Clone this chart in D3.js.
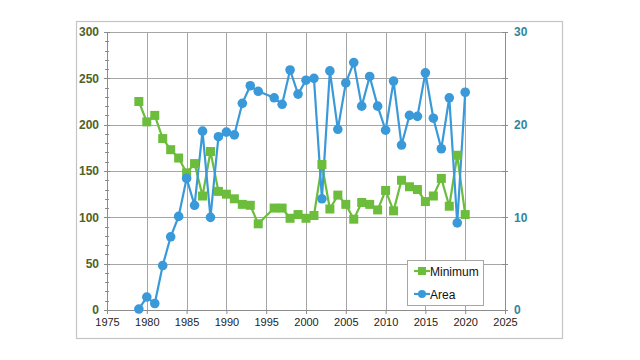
<!DOCTYPE html>
<html><head><meta charset="utf-8">
<script src="https://cdn.jsdelivr.net/npm/d3@7"></script>
<style>body{margin:0;background:#fff}svg{display:block}</style>
</head><body><svg id="c" width="640" height="360"></svg>
<script>
const years = [1979,1980,1981,1982,1983,1984,1985,1986,1987,1988,1989,1990,1991,1992,1993,1994,1996,1997,1998,1999,2000,2001,2002,2003,2004,2005,2006,2007,2008,2009,2010,2011,2012,2013,2014,2015,2016,2017,2018,2019,2020];
const minimum = [225,203,210,185,173,164,148,158,123,171,128,125,120,114,113,93,110,110,99,103,99,102,157,109,124,114,98,116,114,108,129,107,140,133,130,117,123,142,112,167,103];
const area = [0.1,1.4,0.7,4.8,7.9,10.1,14.2,11.3,19.3,10.0,18.7,19.2,18.9,22.3,24.2,23.6,22.9,22.2,25.9,23.3,24.8,25.0,12.0,25.8,19.5,24.5,26.7,22.0,25.2,22.0,19.4,24.7,17.8,21.0,20.9,25.6,20.7,17.4,22.9,9.4,23.5];
const xTicks = [1975,1980,1985,1990,1995,2000,2005,2010,2015,2020,2025];
const leftTicks = [0,50,100,150,200,250,300];
const rightTicks = [0,10,20,30];
const seriesNames = ["Minimum","Area"];

const svg = d3.select("#c");
const green = "#6cbd3c", blue = "#3a9ad9";
const L = 107, R = 505, T = 32, B = 310;

// outer frame
svg.append("rect").attr("x",76.5).attr("y",21.5).attr("width",486).attr("height",317)
  .attr("fill","#fff").attr("stroke","#c4c4c4").attr("stroke-width",1.2);

const x = d3.scaleLinear().domain([1975,2025]).range([L,R]);
const yL = d3.scaleLinear().domain([0,300]).range([B,T]);
const yR = d3.scaleLinear().domain([0,30]).range([B,T]);

// grid
const g = svg.append("g");
g.selectAll(".vg").data(xTicks).join("line")
  .attr("x1",d=>Math.round(x(d))+0.5).attr("x2",d=>Math.round(x(d))+0.5)
  .attr("y1",T).attr("y2",B).attr("stroke","#a6a6a6").attr("stroke-width",1);
g.selectAll(".hg").data(leftTicks).join("line")
  .attr("x1",L).attr("x2",R)
  .attr("y1",d=>Math.round(yL(d))+0.5).attr("y2",d=>Math.round(yL(d))+0.5)
  .attr("stroke","#a6a6a6").attr("stroke-width",1);

// left axis
const la = svg.append("g").attr("transform",`translate(${L},0)`)
  .call(d3.axisLeft(yL).tickValues(leftTicks).tickSize(0).tickPadding(8));
la.select(".domain").attr("stroke","#8c8c8c");
la.selectAll("text").attr("font-family","Liberation Sans, Arial, sans-serif")
  .attr("font-size",12).attr("font-weight","bold").attr("fill","#4f6228");
svg.append("g").selectAll("line").data(d3.range(0,301,10)).join("line")
  .attr("x1",d=>d%50===0?L-3:L-2).attr("x2",d=>d%50===0?L+3:L+2)
  .attr("y1",d=>Math.round(yL(d))+0.5).attr("y2",d=>Math.round(yL(d))+0.5)
  .attr("stroke","#8c8c8c");

// right axis
const ra = svg.append("g").attr("transform",`translate(${R},0)`)
  .call(d3.axisRight(yR).tickValues(rightTicks).tickSize(0).tickPadding(9));
ra.select(".domain").attr("stroke","#8c8c8c");
ra.selectAll("text").attr("font-family","Liberation Sans, Arial, sans-serif")
  .attr("font-size",12).attr("font-weight","bold").attr("fill","#31859c");
svg.append("g").selectAll("line").data(d3.range(0,31,5)).join("line")
  .attr("x1",R-3).attr("x2",R+3)
  .attr("y1",d=>Math.round(yR(d))+0.5).attr("y2",d=>Math.round(yR(d))+0.5)
  .attr("stroke","#8c8c8c");

// bottom axis
const ba = svg.append("g").attr("transform",`translate(0,${B})`)
  .call(d3.axisBottom(x).tickValues(xTicks).tickFormat(d3.format("d")).tickSize(4).tickPadding(4));
ba.select(".domain").attr("stroke","#8c8c8c");
ba.selectAll("line").attr("stroke","#8c8c8c");
ba.selectAll("text").attr("font-family","Liberation Sans, Arial, sans-serif")
  .attr("font-size",11).attr("fill","#222");

// series: minimum
const lineG = d3.line().x((d,i)=>x(years[i])).y(d=>yL(d));
svg.append("path").datum(minimum).attr("d",lineG).attr("fill","none")
  .attr("stroke",green).attr("stroke-width",2.2);
// series: area
const lineB = d3.line().x((d,i)=>x(years[i])).y(d=>yR(d));
svg.append("path").datum(area).attr("d",lineB).attr("fill","none")
  .attr("stroke",blue).attr("stroke-width",2.2);
svg.append("g").selectAll("rect").data(minimum).join("rect")
  .attr("x",(d,i)=>x(years[i])-4.5).attr("y",d=>yL(d)-4.5)
  .attr("width",9).attr("height",9).attr("fill",green);
svg.append("g").selectAll("circle").data(area).join("circle")
  .attr("cx",(d,i)=>x(years[i])).attr("cy",d=>yR(d)).attr("r",4.8).attr("fill",blue);

// legend
const lg = svg.append("g");
lg.append("rect").attr("x",407.5).attr("y",260.5).attr("width",76).attr("height",45)
  .attr("fill","#fff").attr("stroke","#a6a6a6");
const cols = [green, blue];
seriesNames.forEach((n,i)=>{
  const cy = 271 + i*23;
  lg.append("line").attr("x1",414).attr("x2",430).attr("y1",cy).attr("y2",cy)
    .attr("stroke",cols[i]).attr("stroke-width",2.2);
  if(i===0) lg.append("rect").attr("x",418).attr("y",cy-4).attr("width",8).attr("height",8).attr("fill",cols[i]);
  else lg.append("circle").attr("cx",422).attr("cy",cy).attr("r",4).attr("fill",cols[i]);
  lg.append("text").attr("x",430).attr("y",cy+4.5).text(n)
    .attr("font-family","Liberation Sans, Arial, sans-serif").attr("font-size",12).attr("fill","#111");
});
</script></body></html>
